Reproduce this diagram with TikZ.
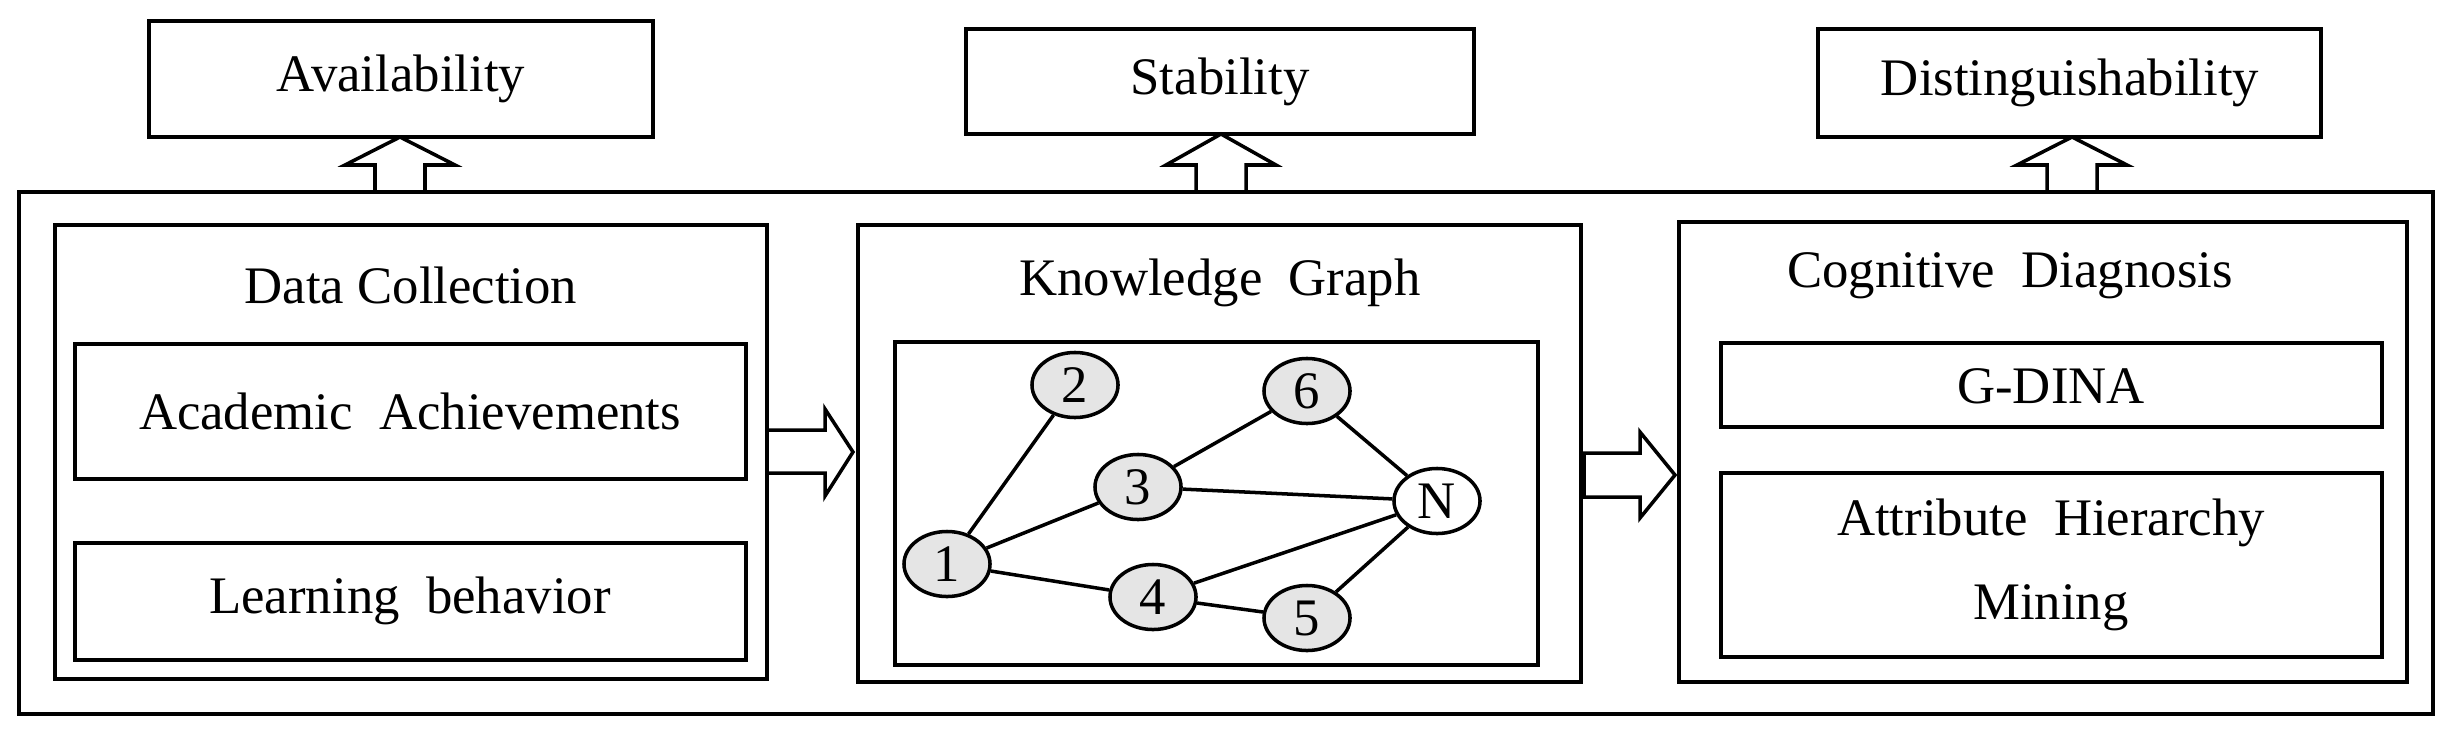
\documentclass[tikz,border=0pt]{standalone}
\usepackage{fontspec}
\setmainfont{Liberation Serif}
\usetikzlibrary{shapes.geometric}
\begin{document}
\begin{tikzpicture}[x=0.01cm,y=-0.01cm,line width=1.2pt,
  box/.style={draw,rectangle,inner sep=0pt},
  lbl/.style={font=\fontsize{15}{18}\selectfont,align=center},
  kn/.style={draw,ellipse,fill=gray!20,minimum width=0.86cm,minimum height=0.65cm,inner sep=0pt,font=\fontsize{15}{18}\selectfont,line width=1pt},
  ed/.style={line width=1pt},
  blk/.style={draw,fill=white,line width=1pt}]
\useasboundingbox (0,0) rectangle (2442,730);
% outer
\draw (19,192) rectangle (2433,714);
% top boxes
\draw (149,21) rectangle (653,137); \node[lbl] (av) at (401,79) {Availability};
\draw (966,29) rectangle (1474,134); \node[lbl] (st) at (1220,82) {Stability};
\draw (1818,29) rectangle (2321,137); \node[lbl] (di) at (2070,83) {Distinguishability};
% up arrows
\foreach \c/\t in {400/137,1221/134,2072/137}{
  \draw[blk] (\c,\t) -- (\c+55,165) -- (\c+25,165) -- (\c+25,192) -- (\c-25,192) -- (\c-25,165) -- (\c-55,165) -- cycle;}
% Data collection
\draw (55,225) rectangle (767,679);
\node[lbl] (dc) at (411,285) {Data Collection};
\draw (75,344) rectangle (746,479); \node[lbl] (aa) at (410,411) {Academic\ \ Achievements};
\draw (75,543) rectangle (746,660); \node[lbl] (lb) at (410,601) {Learning\ \ behavior};
% arrow 1
\draw[blk] (767,430) -- (825,430) -- (825,409) -- (853,452) -- (825,496) -- (825,473) -- (767,473) -- cycle;
% Knowledge graph
\draw (858,225) rectangle (1581,682);
\node[lbl] (kg) at (1220,283) {Knowledge\ \ Graph};
\draw (895,342) rectangle (1538,665);
\node[kn] (n2) at (1075,385) {2};
\node[kn] (n6) at (1307,391) {6};
\node[kn] (n3) at (1138,487) {3};
\node[kn,fill=white] (nN) at (1437,501) {N};
\node[kn] (n1) at (947,564) {1};
\node[kn] (n4) at (1153,597) {4};
\node[kn] (n5) at (1307,618) {5};
\foreach \a/\b in {n1/n2,n1/n3,n1/n4,n3/n6,n3/nN,n6/nN,n4/nN,n4/n5,n5/nN}
  \draw[ed] (\a) -- (\b);
% arrow 2
\draw[blk] (1584,453) -- (1640,453) -- (1640,432) -- (1675,475) -- (1640,518) -- (1640,497) -- (1584,497) -- cycle;
% Cognitive diagnosis
\draw (1679,222) rectangle (2407,682);
\node[lbl] (cd) at (2010,276) {Cognitive\ \ Diagnosis};
\draw (1721,343) rectangle (2382,427); \node[lbl] (gd) at (2051,386) {G-DINA};
\draw (1721,473) rectangle (2382,657); \node[lbl] (ah) at (2051,565) {Attribute\ \ Hierarchy\\[6pt]Mining};
\end{tikzpicture}
\end{document}
